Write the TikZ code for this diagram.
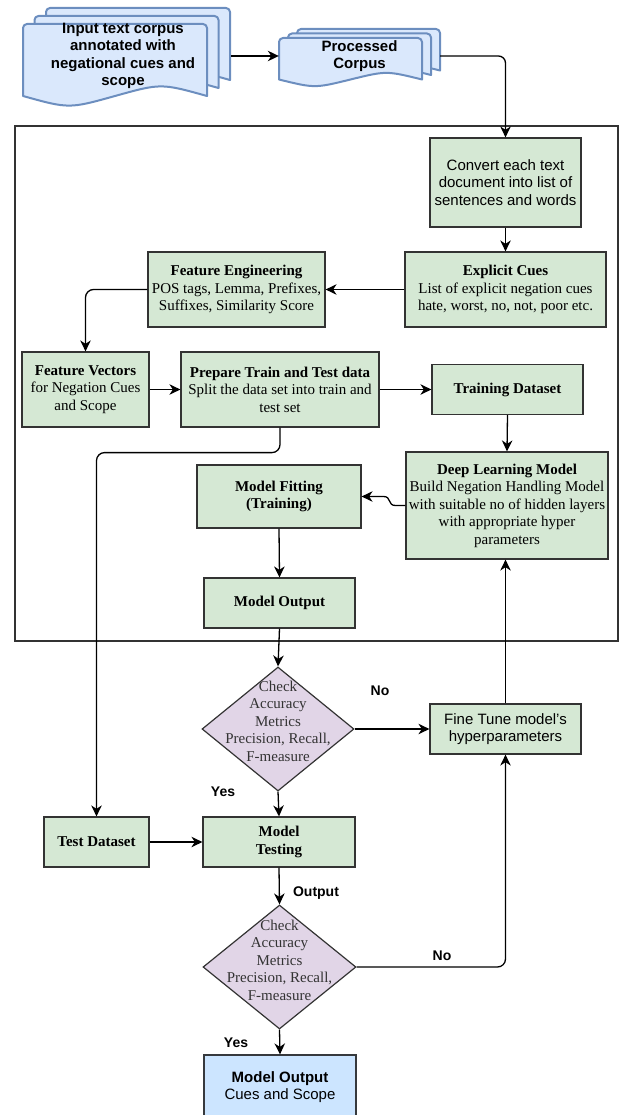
\documentclass[tikz,border=0pt]{standalone}
\usepackage{fontspec}
\setmainfont{Liberation Serif}
\setsansfont{Liberation Sans}
\usetikzlibrary{shapes.geometric,arrows.meta}

\definecolor{linec}{HTML}{333333}
\definecolor{greenf}{HTML}{D5E8D4}
\definecolor{purplef}{HTML}{E1D5E7}
\definecolor{docf}{HTML}{DAE8FC}
\definecolor{docd}{HTML}{6C8EBF}
\definecolor{finalf}{HTML}{CCE5FF}
\definecolor{finald}{HTML}{36393D}

\tikzset{
  txt/.style={font=\fontsize{15}{17.5}\selectfont},
  proc/.style={rectangle, draw=linec, fill=greenf, line width=1.2pt,
    align=center, inner sep=0pt, txt},
  decision/.style={diamond, draw=linec, fill=purplef, line width=1.2pt,
    inner sep=0pt},
  dectext/.style={align=center, text=black!80, txt},
  doctext/.style={align=center, inner sep=0pt, font=\sffamily\bfseries\fontsize{15}{17.5}\selectfont},
  docsty/.style={fill=docf, draw=docd, line width=2pt, line join=round},
  arr/.style={draw=black, line width=1.3pt, -{Stealth[length=11pt,width=10.5pt,inset=3.5pt]}},
  lbl/.style={font=\sffamily\bfseries\fontsize{14}{16}\selectfont, inner sep=0pt},
}

% page-like shape with rounded top corners and a wavy lower edge:
% x, y, width, height, wave depth
\newcommand{\docshape}[5]{%
  \filldraw[docsty] (#1,{#2+#4-#5/2}) [rounded corners=4pt] -- (#1,#2) -- ({#1+#3},#2)
    [sharp corners] -- ({#1+#3},{#2+#4-#5/2})
    .. controls ({#1+0.75*#3},{#2+#4-1.3*#5}) .. ({#1+0.5*#3},{#2+#4-#5/2})
    .. controls ({#1+0.25*#3},{#2+#4+0.3*#5}) .. (#1,{#2+#4-#5/2}) -- cycle;}

\begin{document}
\begin{tikzpicture}[x=1pt,y=-1pt]
\useasboundingbox (0,0) rectangle (621,1115);
\clip (0,0) rectangle (621,1115);

% input corpus stack
\docshape{46}{8}{184}{80}{16}
\docshape{34.5}{16}{184}{80}{16}
\docshape{23}{24}{184}{80}{16}
\node[doctext, minimum width=216pt, minimum height=80pt] (indoc) at (123,56)
  {Input text corpus\\annotated with\\negational cues and\\scope};

% processed corpus stack
\docshape{297}{29}{143}{47}{11}
\docshape{288}{33.5}{143}{47}{11}
\docshape{279}{38}{143}{47}{11}
\node[doctext, minimum width=161pt, minimum height=40pt] (proc) at (359.5,56)
  {Processed\\Corpus};

% training pipeline frame
\draw[draw=linec, line width=1.3pt] (15,126) rectangle (618,641);

\node[proc, minimum width=151pt, minimum height=89pt, font=\sffamily\fontsize{15}{17.5}\selectfont] (conv) at (505.5,182.5)
  {Convert each text\\document into list of\\sentences and words};
\node[proc, minimum width=201pt, minimum height=75pt] (expl) at (505.5,289.5)
  {\textbf{Explicit Cues}\\List of explicit negation cues\\hate, worst, no, not, poor etc.};
\node[proc, minimum width=177pt, minimum height=75pt] (feng) at (236.5,289.5)
  {\textbf{Feature Engineering}\\POS tags, Lemma, Prefixes,\\Suffixes, Similarity Score};
\node[proc, minimum width=127pt, minimum height=75pt] (fvec) at (85.5,389.5)
  {\textbf{Feature Vectors}\\for Negation Cues\\and Scope};
\node[proc, minimum width=198pt, minimum height=75pt] (prep) at (280,389.5)
  {\textbf{Prepare Train and Test data}\\Split the data set into train and\\test set};
\node[proc, minimum width=151pt, minimum height=50pt] (tds) at (507.5,389.5)
  {\textbf{Training Dataset}};
\node[proc, minimum width=202pt, minimum height=107pt] (dlm) at (507,505.5)
  {\textbf{Deep Learning Model}\\Build Negation Handling Model\\with suitable no of hidden layers\\with appropriate hyper\\parameters};
\node[proc, minimum width=164pt, minimum height=63pt] (mfit) at (279,496.5)
  {\textbf{Model Fitting}\\\textbf{(Training)}};
\node[proc, minimum width=151pt, minimum height=50pt] (mout) at (279.5,603)
  {\textbf{Model Output}};

% evaluation stage
\node[decision, minimum width=152pt, minimum height=124pt] (dia1) at (278,729) {};
\node[dectext] at (278,721) {Check\\Accuracy\\Metrics\\Precision, Recall,\\F-measure};
\node[proc, minimum width=151pt, minimum height=50pt, font=\sffamily\fontsize{15}{17.5}\selectfont] (fine) at (505.5,729)
  {Fine Tune model{\char"0027}s\\hyperparameters};
\node[proc, minimum width=152pt, minimum height=50pt] (mtest) at (279,842)
  {\textbf{Model}\\\textbf{Testing}};
\node[proc, minimum width=105pt, minimum height=50pt] (tset) at (96.5,842)
  {\textbf{Test Dataset}};
\node[decision, minimum width=153pt, minimum height=124pt] (dia2) at (279.5,967) {};
\node[dectext] at (279.5,960) {Check\\Accuracy\\Metrics\\Precision, Recall,\\F-measure};
\node[rectangle, draw=finald, fill=finalf, line width=1.2pt, align=center, inner sep=0pt,
  minimum width=152pt, minimum height=64pt, font=\sffamily\fontsize{15}{17.5}\selectfont] (final) at (280,1087)
  {\textbf{Model Output}\\Cues and Scope};

% connectors
\draw[arr] (indoc.east) -- (proc.west);
\draw[arr, rounded corners=7pt] (proc.east) -| (conv.north);
\draw[arr] (conv.south) -- (expl.north);
\draw[arr] (expl.west) -- (feng.east);
\draw[arr, rounded corners=8pt] (feng.west) -| (fvec.north);
\draw[arr] (fvec.east) -- (prep.west);
\draw[arr] (prep.east) -- (tds.west);
\draw[arr] (tds.south) -- (dlm.north);
\draw[arr] (dlm.west) -- ++(-10,0) .. controls +(-8,0) and +(8,0) .. ([xshift=22pt]mfit.east) -- (mfit.east);
\draw[arr] (mfit.south) -- (mout.north);
\draw[arr] (mout.south) -- (dia1.north);
\draw[arr] (dia1.east) -- (fine.west);
\draw[arr] (fine.north) -- (fine.north |- dlm.south);
\draw[arr] (dia1.south) -- (mtest.north);
\draw[arr, rounded corners=8pt] (prep.south) -- ++(0,25) -| (tset.north);
\draw[arr] (tset.east) -- (mtest.west);
\draw[arr] (mtest.south) -- (dia2.north);
\draw[arr, rounded corners=8pt] (dia2.east) -| (fine.south);
\draw[arr] (dia2.south) -- (final.north);

% branch labels
\node[lbl] at (380,691) {No};
\node[lbl] at (223,792) {Yes};
\node[lbl] at (316,893) {Output};
\node[lbl] at (442,956) {No};
\node[lbl] at (236,1043) {Yes};
\end{tikzpicture}
\end{document}
